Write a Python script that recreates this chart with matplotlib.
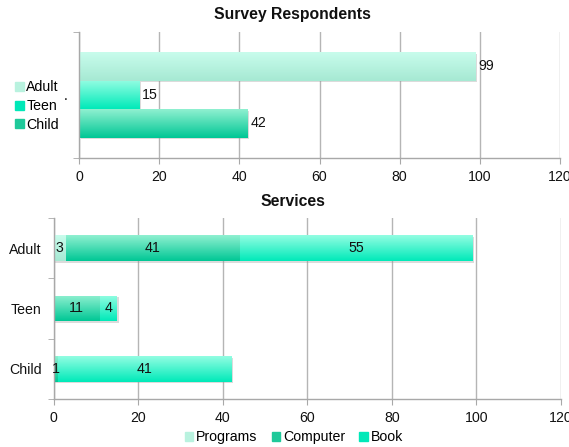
import numpy as np
import matplotlib
matplotlib.use("Agg")
import matplotlib.pyplot as plt
from matplotlib.colors import LinearSegmentedColormap
import matplotlib.patheffects as pe
from matplotlib.patches import Patch

plt.rcParams['font.family'] = ['Liberation Sans', 'DejaVu Sans']

# ---- data ----
resp_series = ["Adult", "Teen", "Child"]
resp_values = [99, 15, 42]

svc_categories = ["Child", "Teen", "Adult"]
svc_series = ["Programs", "Computer", "Book"]
svc_programs = [0, 0, 3]
svc_computer = [1, 11, 41]
svc_book = [41, 4, 55]
x_ticks = [0, 20, 40, 60, 80, 100, 120]

# colours (top, bottom of gradient), legend colour
grad_light = ("#c8fcec", "#a6e9d3")
grad_bright = ("#92fde2", "#00eab9")
grad_dark = ("#8ff0d0", "#00c795")
leg_light = "#b9f2df"
leg_bright = "#00e8b8"
leg_dark = "#1fc99a"

W, H = 569, 447
fig = plt.figure(figsize=(W / 100, H / 100), dpi=100)

def fx(px):
    return px / W

def fy(py):
    return 1 - py / H

GRID = "#b5b5b5"
SPINE = "#a8a8a8"
FS = 10.2

def gradient_bar(ax, patch, colors):
    x, y = patch.get_x(), patch.get_y()
    w, h = patch.get_width(), patch.get_height()
    if w <= 0:
        return
    cmap = LinearSegmentedColormap.from_list("g", [colors[1], colors[0]])
    grad = np.linspace(0, 1, 64).reshape(-1, 1)
    im = ax.imshow(grad, extent=[x, x + w, y, y + h], origin="lower",
                   aspect="auto", cmap=cmap, zorder=patch.get_zorder() + 0.1,
                   interpolation="bilinear")
    im.set_clip_path(patch)
    patch.set_path_effects([pe.SimplePatchShadow(offset=(1.2, -1.2),
                                                 shadow_rgbFace="#999999",
                                                 alpha=0.35), pe.Normal()])

def style_axes(ax):
    ax.set_xlim(0, 120)
    ax.set_xticks(x_ticks)
    ax.set_xticklabels([str(t) for t in x_ticks], fontsize=FS)
    ax.grid(axis="x", color=GRID, lw=1)
    ax.set_axisbelow(True)
    for s in ("top", "right"):
        ax.spines[s].set_visible(False)
    for s in ("left", "bottom"):
        ax.spines[s].set_color(SPINE)
        ax.spines[s].set_linewidth(1)
    ax.tick_params(axis="x", direction="out", length=4, color=SPINE,
                   pad=4.5, labelcolor="#111111")

# ---- top chart ----
ax1 = fig.add_axes([fx(79), fy(158), fx(560 - 79), (158 - 31.7) / H])
style_axes(ax1)
bh = 0.226
offsets = [bh, 0, -bh]
grads = [grad_light, grad_bright, grad_dark]
legc = [leg_light, leg_bright, leg_dark]
for name, val, off, g in zip(resp_series, resp_values, offsets, grads):
    bars = ax1.barh([off], [val], height=bh, color=g[1], zorder=2)
    for p in bars.patches:
        gradient_bar(ax1, p, g)
    ax1.text(val + 0.7, off, str(val), va="center", ha="left", fontsize=FS,
             color="#111111", zorder=5)
ax1.set_ylim(-0.5, 0.5)
ax1.set_yticks([0])
ax1.set_yticklabels(["."], fontsize=FS)
ax1.set_yticks([-0.5, 0.5], minor=True)
ax1.tick_params(axis="y", which="major", length=0, pad=8)
ax1.tick_params(axis="y", which="minor", length=4, color=SPINE)
ax1.set_xlim(0, 120)

fig.legend(handles=[Patch(color=c, label=n) for n, c in zip(resp_series, legc)],
           loc="center left", bbox_to_anchor=(fx(15), fy(106)), frameon=False,
           fontsize=FS, handlelength=0.6, handleheight=0.6, handletextpad=0.2,
           labelspacing=0.33, borderaxespad=0, borderpad=0)

fig.text(fx(292.5), fy(15), "Survey Respondents", ha="center", va="center",
         fontsize=11.3, fontweight="bold", color="#111111")

# ---- bottom chart ----
ax2 = fig.add_axes([fx(53.5), fy(399), fx(561 - 53.5), (399 - 218) / H])
style_axes(ax2)
ypos = np.arange(len(svc_categories))
bh2 = 0.42
left = np.zeros(len(svc_categories))
svc_grads = [grad_light, grad_dark, grad_bright]
svc_legc = [leg_light, leg_dark, leg_bright]
for name, vals, g in zip(svc_series, [svc_programs, svc_computer, svc_book], svc_grads):
    vals = np.array(vals, dtype=float)
    bars = ax2.barh(ypos, vals, left=left, height=bh2, color=g[1], zorder=2)
    for p in bars.patches:
        gradient_bar(ax2, p, g)
    for y, l, v in zip(ypos, left, vals):
        if v > 0:
            ax2.text(l + v / 2, y, str(int(v)), ha="center", va="center",
                     fontsize=FS, color="#111111", zorder=5)
    left = left + vals
ax2.set_ylim(-0.5, len(svc_categories) - 0.5)
ax2.set_yticks(ypos)
ax2.set_yticklabels(svc_categories, fontsize=FS)
ax2.set_yticks(np.arange(-0.5, len(svc_categories), 1.0), minor=True)
ax2.tick_params(axis="y", which="major", length=0, pad=8.5, labelcolor="#111111")
ax2.tick_params(axis="y", which="minor", length=4, color=SPINE)
ax2.set_xlim(0, 120)

fig.legend(handles=[Patch(color=c, label=n) for n, c in zip(svc_series, svc_legc)],
           loc="center", bbox_to_anchor=(fx(294), fy(437)), ncol=3, frameon=False,
           fontsize=FS, handlelength=0.6, handleheight=0.6, handletextpad=0.2,
           columnspacing=1.0, borderaxespad=0, borderpad=0)

fig.text(fx(292.5), fy(202), "Services", ha="center", va="center",
         fontsize=11.3, fontweight="bold", color="#111111")

fig.savefig("out.png", dpi=100)
